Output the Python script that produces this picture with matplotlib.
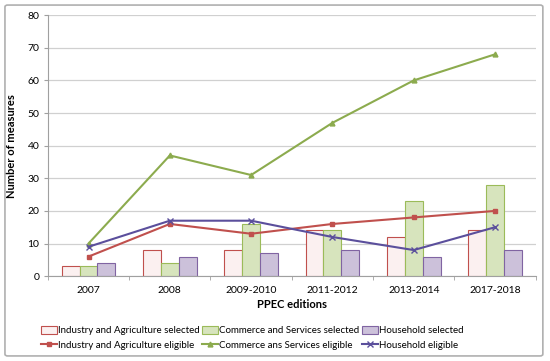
import matplotlib
matplotlib.use("Agg")
import matplotlib.pyplot as plt
import matplotlib.patches as mpatches
import numpy as np

editions = ["2007", "2008", "2009-2010", "2011-2012", "2013-2014", "2017-2018"]

ind_selected = [3, 8, 8, 14, 12, 14]
com_selected = [3, 4, 16, 14, 23, 28]
hh_selected = [4, 6, 7, 8, 6, 8]

ind_eligible = [6, 16, 13, 16, 18, 20]
com_eligible = [10, 37, 31, 47, 60, 68]
hh_eligible = [9, 17, 17, 12, 8, 15]

plt.rcParams['font.family'] = ['Lato', 'DejaVu Sans']
plt.rcParams['font.size'] = 7.2

fig = plt.figure(figsize=(5.5, 3.61), dpi=100)
ax = fig.add_axes([0.087, 0.235, 0.887, 0.723])

x = np.arange(len(editions))
w = 0.22

b1 = ax.bar(x - w, ind_selected, w, color='#fbf0f0', edgecolor='#c0504d', linewidth=0.8, zorder=2,
            label='Industry and Agriculture selected')
b2 = ax.bar(x, com_selected, w, color='#d7e4bd', edgecolor='#9bbb59', linewidth=0.8, zorder=2,
            label='Commerce and Services selected')
b3 = ax.bar(x + w, hh_selected, w, color='#ccc1da', edgecolor='#8064a2', linewidth=0.8, zorder=2,
            label='Household selected')

l1, = ax.plot(x, ind_eligible, color='#c0504d', marker='s', markersize=3.5, linewidth=1.5, zorder=3,
              label='Industry and Agriculture eligible')
l2, = ax.plot(x, com_eligible, color='#8cab4e', marker='^', markersize=3.5, linewidth=1.5, zorder=3,
              label='Commerce ans Services eligible')
l3, = ax.plot(x, hh_eligible, color='#5b4f9c', marker='x', markersize=4, markeredgewidth=1, linewidth=1.5,
              zorder=3, label='Household eligible')

ax.set_xlim(-0.5, len(editions) - 0.5)
ax.set_ylim(0, 80)
ax.set_yticks(range(0, 81, 10))
ax.grid(axis='y', color='#d0d0d0', linewidth=0.9, zorder=0)
ax.set_axisbelow(True)

ax.set_xticks(x)
ax.set_xticklabels(editions, fontsize=7.5)
ax.set_xticks(np.arange(-0.5, len(editions), 1), minor=True)
ax.tick_params(axis='x', which='major', length=0, pad=7)
ax.tick_params(axis='x', which='minor', length=3, color='#a0a0a0')
ax.tick_params(axis='y', length=3, color='#a0a0a0', pad=3, labelsize=7.5)

for s in ['top', 'right']:
    ax.spines[s].set_visible(False)
for s in ['left', 'bottom']:
    ax.spines[s].set_color('#a0a0a0')

ax.set_ylabel('Number of measures', fontweight='bold', fontsize=8, labelpad=8)
ax.set_xlabel('PPEC editions', fontweight='bold', fontsize=8, labelpad=3)

fig.legend(handles=[b1, l1, b2, l2, b3, l3], ncol=3, loc='lower left',
           bbox_to_anchor=(0.075, 0.03), borderaxespad=0, borderpad=0,
           frameon=False, handlelength=1.6, handleheight=0.9,
           handletextpad=0.1, columnspacing=0.3, labelspacing=0.6, fontsize=7)

border = mpatches.FancyBboxPatch((0.009, 0.014), 0.978, 0.972, boxstyle='round,pad=0,rounding_size=0.005',
                                 transform=fig.transFigure, fill=False, edgecolor='#b0b0b0', linewidth=1.2)
fig.patches.append(border)

fig.savefig('out.png', dpi=100)
